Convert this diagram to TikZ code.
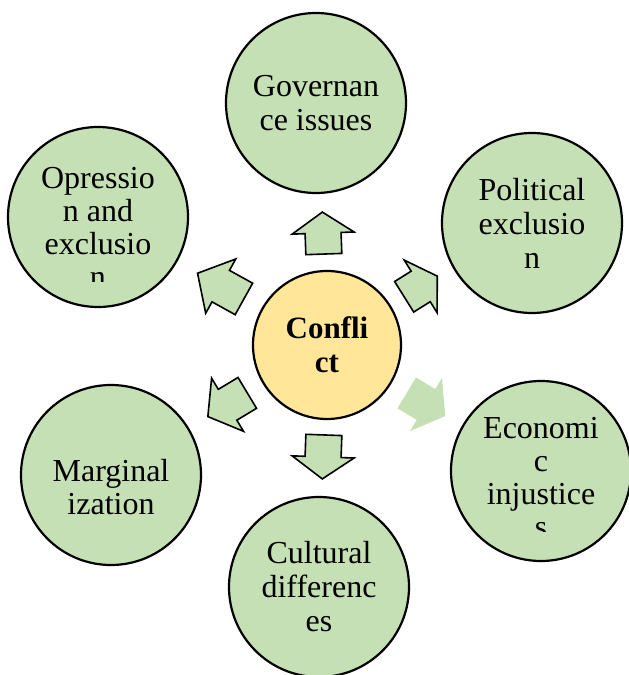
\documentclass[tikz,border=0pt]{standalone}
\usepackage{fontspec}
\setmainfont{Liberation Serif}[Ligatures=NoCommon]

\definecolor{leaf}{HTML}{C5E0B4}
\definecolor{sand}{HTML}{FFE699}

\begin{document}
\begin{tikzpicture}[x=1pt,y=1pt,
  cause/.style={circle,draw,line width=2.2pt,fill=leaf,minimum size=180pt,
    inner sep=0pt,align=center,font=\fontsize{32}{34}\selectfont},
  words/.style={align=center,font=\fontsize{32}{33}\selectfont},
  core/.style={circle,draw,line width=2.2pt,fill=sand,minimum size=148pt,
    inner sep=0pt,align=center,font=\fontsize{31}{34}\selectfont\bfseries},
  push/.style={draw,line width=1.6pt,fill=leaf,line join=miter}]
\useasboundingbox (-327,-330) rectangle (302,345);

% the core
\node[core] (conflict) at (0,0) {Confli\\ct};

% the six causes around it
\node[cause] (gov) at (-11,242) {Governan\\ce issues};
\node[cause] (pol) at (205,122) {Political\\exclusio\\n};
\node[cause] (opp) at (-229,128) {};
\node[cause] (marg) at (-216,-130) {};
\node[cause] (econ) at (214,-126) {};
\node[cause] (cult) at (-8,-242) {Cultural\\differenc\\es};

% text sitting low in its circle
\node[words] (margtext) at ([yshift=-12]marg.center) {Marginal\\ization};

% overflowing text, cut at the bottom
\begin{scope}
  \clip (-329,64) rectangle (-129,220);
  \node[words] (opptext) at (-229,118) {Opressio\\n and\\exclusio\\n};
\end{scope}
\begin{scope}
  \clip (114,-186) rectangle (314,-30);
  \node[words] (econtext) at (214,-133) {Economi\\c\\injustice\\s};
\end{scope}

% block arrows pointing outwards: angle/start/length
\foreach \ang/\rad/\len in {92/91/42, 151/95/53, 211/93/46, 268/90/44, 32/91/39}
  \draw[push,shift={(conflict.center)},rotate=\ang]
    (\rad,-18) -- (\rad+\len/2,-18) -- (\rad+\len/2,-31) -- (\rad+\len,0)
    -- (\rad+\len/2,31) -- (\rad+\len/2,18) -- (\rad,18) -- cycle;
\fill[leaf,shift={(conflict.center)},rotate=329]
  (93,-18) -- (115.5,-18) -- (115.5,-31) -- (138,0)
  -- (115.5,31) -- (115.5,18) -- (93,18) -- cycle;
\end{tikzpicture}
\end{document}
